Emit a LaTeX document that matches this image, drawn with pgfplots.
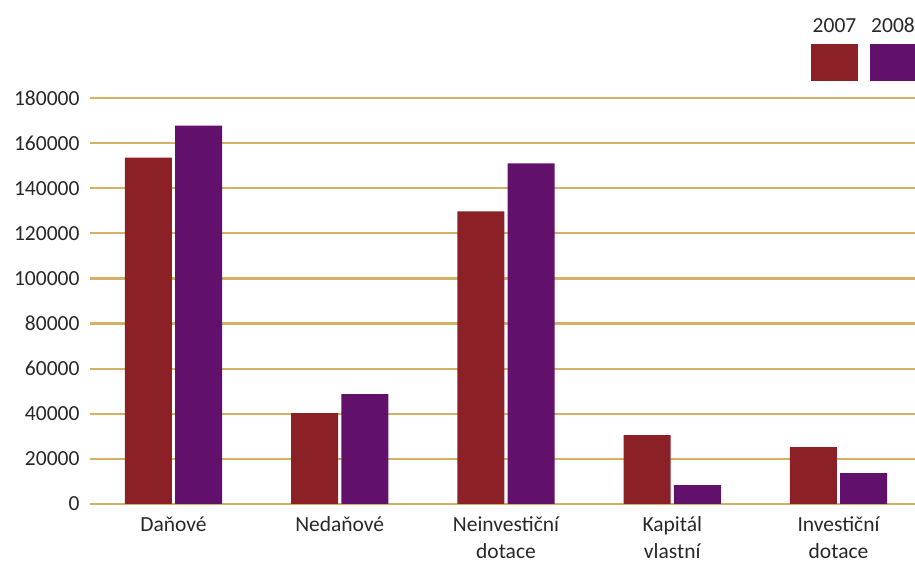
\documentclass[border=0pt]{standalone}
\usepackage{fontspec}
\setmainfont{Carlito}
\usepackage{pgfplots}
\pgfplotsset{compat=1.18}
\definecolor{cRed}{RGB}{139,33,38}
\definecolor{cPurple}{RGB}{97,16,107}
\definecolor{cGold}{RGB}{214,176,100}
\definecolor{cText}{RGB}{40,40,40}
\begin{document}
\begin{tikzpicture}[x=1bp,y=1bp]
\begin{axis}[
    at={(0,0)}, anchor=south west,
    scale only axis,
    width=825bp, height=406bp,
    xmin=-0.502, xmax=4.46,
    ymin=0, ymax=180000,
    ybar, bar width=0.283,
    axis line style={draw=none},
    tick style={draw=none},
    ymajorgrids,
    grid style={color=cGold, line width=2.2bp},
    scaled y ticks=false,
    ytick={0,20000,40000,60000,80000,100000,120000,140000,160000,180000},
    yticklabels={0,20000,40000,60000,80000,100000,120000,140000,160000,180000},
    yticklabel style={xshift=-7bp},
    xtick=data,
    xticklabels={Daňové,Nedaňové,{Neinvestiční\\dotace},{Kapitál\\vlastní},{Investiční\\dotace}},
    tick label style={text=cText, font=\fontsize{21.5bp}{26.5bp}\selectfont},
    xticklabel style={align=center, anchor=north, yshift=-5bp},
    clip=false,
  ]
  \addplot[draw=none, fill=cRed, bar shift=-0.151] coordinates {
    (0,153600) (1,40300) (2,129700) (3,30500) (4,25200)
  };
  \addplot[draw=none, fill=cPurple, bar shift=0.151] coordinates {
    (0,167800) (1,48700) (2,151000) (3,8400) (4,13700)
  };
\end{axis}
% legend
\fill[cRed] (721,423) rectangle (768,460);
\fill[cPurple] (780,423) rectangle (825,460);
\node[anchor=base, text=cText, font=\fontsize{21.5bp}{24bp}\selectfont, inner sep=0] at (744.5,471) {2007};
\node[anchor=base, text=cText, font=\fontsize{21.5bp}{24bp}\selectfont, inner sep=0] at (803,471) {2008};
\pgfresetboundingbox
\path[use as bounding box] (-90,-60) rectangle (825,504);
\end{tikzpicture}
\end{document}
